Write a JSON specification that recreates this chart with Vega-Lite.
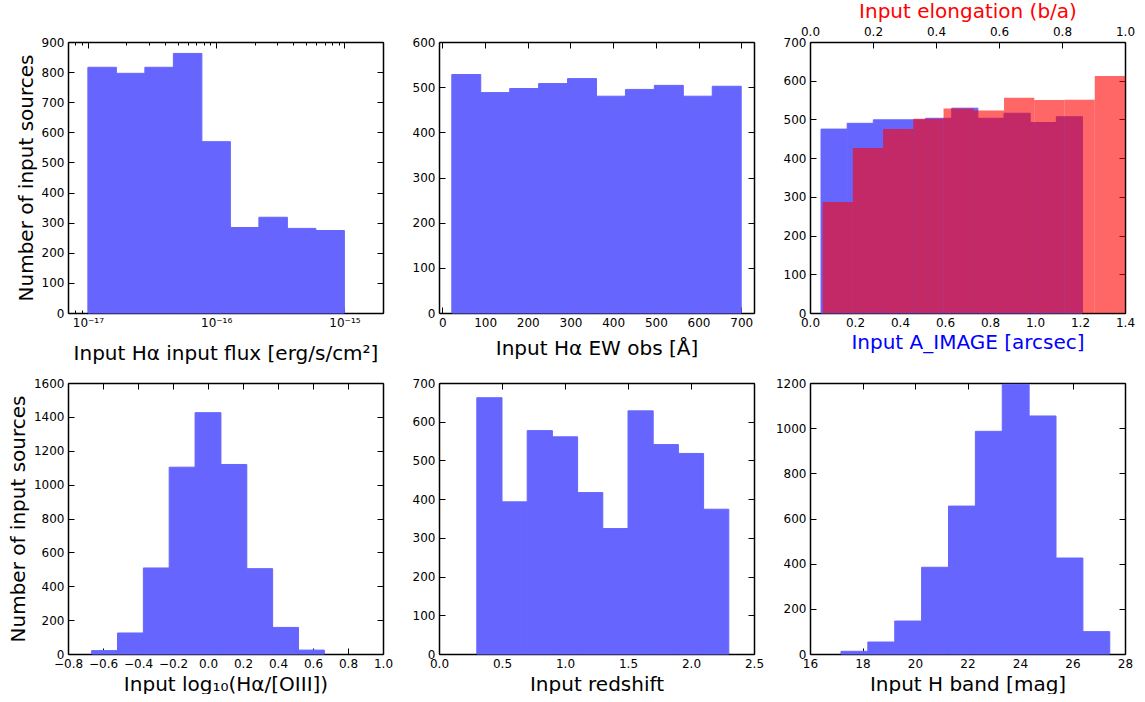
{
  "$schema": "https://vega.github.io/schema/vega-lite/v6.json",
  "background": "white",
  "padding": {"left": 8, "top": 1, "right": 0, "bottom": 0},
  "bounds": "flush",
  "columns": 3,
  "spacing": {"row": 70, "column": 56},
  "config": {
    "view": {"stroke": null},
    "font": "DejaVu Sans",
    "axis": {
      "grid": false,
      "zindex": 1,
      "domainColor": "black",
      "domainWidth": 1.5,
      "tickColor": "black",
      "tickWidth": 1,
      "tickSize": -6,
      "labelFont": "DejaVu Sans",
      "labelFontSize": 12,
      "labelColor": "black",
      "labelPadding": 10,
      "labelFlush": false,
      "labelOverlap": false,
      "labelBound": false,
      "titleFont": "DejaVu Sans",
      "titleFontSize": 20,
      "titleFontWeight": "normal",
      "titleColor": "black",
      "titlePadding": 5
    }
  },
  "datasets": {
    "flux": [
      {"lo": 1e-17, "hi": 1.6681e-17, "n": 816},
      {"lo": 1.6681e-17, "hi": 2.7826e-17, "n": 796},
      {"lo": 2.7826e-17, "hi": 4.6416e-17, "n": 816},
      {"lo": 4.6416e-17, "hi": 7.7426e-17, "n": 862},
      {"lo": 7.7426e-17, "hi": 1.2915e-16, "n": 569},
      {"lo": 1.2915e-16, "hi": 2.1544e-16, "n": 284},
      {"lo": 2.1544e-16, "hi": 3.5938e-16, "n": 318},
      {"lo": 3.5938e-16, "hi": 5.9948e-16, "n": 281},
      {"lo": 5.9948e-16, "hi": 1e-15, "n": 274}
    ],
    "ew": [
      {"lo": 22, "hi": 89.8, "n": 528},
      {"lo": 89.8, "hi": 157.6, "n": 488},
      {"lo": 157.6, "hi": 225.4, "n": 497},
      {"lo": 225.4, "hi": 293.2, "n": 508},
      {"lo": 293.2, "hi": 361, "n": 519},
      {"lo": 361, "hi": 428.8, "n": 480},
      {"lo": 428.8, "hi": 496.6, "n": 495},
      {"lo": 496.6, "hi": 564.4, "n": 504},
      {"lo": 564.4, "hi": 632.2, "n": 480},
      {"lo": 632.2, "hi": 700, "n": 502}
    ],
    "aimage": [
      {"lo": 0.049, "hi": 0.1652, "n": 475},
      {"lo": 0.1652, "hi": 0.2814, "n": 490},
      {"lo": 0.2814, "hi": 0.3976, "n": 499},
      {"lo": 0.3976, "hi": 0.5138, "n": 499},
      {"lo": 0.5138, "hi": 0.63, "n": 503},
      {"lo": 0.63, "hi": 0.7462, "n": 529},
      {"lo": 0.7462, "hi": 0.8624, "n": 503},
      {"lo": 0.8624, "hi": 0.9786, "n": 516},
      {"lo": 0.9786, "hi": 1.0948, "n": 492},
      {"lo": 1.0948, "hi": 1.211, "n": 507}
    ],
    "elong": [
      {"lo": 0.04, "hi": 0.136, "n": 287},
      {"lo": 0.136, "hi": 0.232, "n": 426},
      {"lo": 0.232, "hi": 0.328, "n": 475},
      {"lo": 0.328, "hi": 0.424, "n": 502},
      {"lo": 0.424, "hi": 0.52, "n": 528},
      {"lo": 0.52, "hi": 0.616, "n": 523},
      {"lo": 0.616, "hi": 0.712, "n": 556},
      {"lo": 0.712, "hi": 0.808, "n": 550},
      {"lo": 0.808, "hi": 0.904, "n": 551},
      {"lo": 0.904, "hi": 1.0, "n": 612}
    ],
    "ratio": [
      {"lo": -0.665, "hi": -0.5172, "n": 20},
      {"lo": -0.5172, "hi": -0.3694, "n": 124},
      {"lo": -0.3694, "hi": -0.2217, "n": 508},
      {"lo": -0.2217, "hi": -0.0739, "n": 1103},
      {"lo": -0.0739, "hi": 0.0739, "n": 1425},
      {"lo": 0.0739, "hi": 0.2217, "n": 1119},
      {"lo": 0.2217, "hi": 0.3694, "n": 504},
      {"lo": 0.3694, "hi": 0.5172, "n": 157},
      {"lo": 0.5172, "hi": 0.665, "n": 23}
    ],
    "redshift": [
      {"lo": 0.3, "hi": 0.5, "n": 662},
      {"lo": 0.5, "hi": 0.7, "n": 393},
      {"lo": 0.7, "hi": 0.9, "n": 577},
      {"lo": 0.9, "hi": 1.1, "n": 561},
      {"lo": 1.1, "hi": 1.3, "n": 417},
      {"lo": 1.3, "hi": 1.5, "n": 324},
      {"lo": 1.5, "hi": 1.7, "n": 628},
      {"lo": 1.7, "hi": 1.9, "n": 541},
      {"lo": 1.9, "hi": 2.1, "n": 518},
      {"lo": 2.1, "hi": 2.3, "n": 374}
    ],
    "hband": [
      {"lo": 17.18, "hi": 18.204, "n": 12},
      {"lo": 18.204, "hi": 19.228, "n": 53},
      {"lo": 19.228, "hi": 20.252, "n": 146},
      {"lo": 20.252, "hi": 21.276, "n": 384},
      {"lo": 21.276, "hi": 22.3, "n": 655},
      {"lo": 22.3, "hi": 23.324, "n": 986},
      {"lo": 23.324, "hi": 24.348, "n": 1194},
      {"lo": 24.348, "hi": 25.372, "n": 1054},
      {"lo": 25.372, "hi": 26.396, "n": 425},
      {"lo": 26.396, "hi": 27.42, "n": 99}
    ]
  },
  "concat": [
    {
      "width": 315, "height": 271,
      "data": {"name": "flux"},
      "resolve": {"axis": {"x": "independent", "y": "independent"}},
      "layer": [
        {
          "mark": {"type": "rect", "fill": "#6666ff", "stroke": "#6666ff", "strokeWidth": 1},
          "encoding": {
            "x": {"field": "lo", "type": "quantitative",
                  "scale": {"type": "log", "domain": [7e-18, 2e-15], "nice": false},
                  "axis": {"orient": "bottom", "title": "Input Hα input flux [erg/s/cm²]", "titlePadding": 12,
                           "values": [7e-18, 8e-18, 9e-18, 1e-17, 2e-17, 3e-17, 4e-17, 5e-17, 6e-17, 7e-17, 8e-17, 9e-17, 1e-16, 2e-16, 3e-16, 4e-16, 5e-16, 6e-16, 7e-16, 8e-16, 9e-16, 1e-15, 2e-15],
                           "tickSize": {"condition": {"test": "abs(log(datum.value)/LN10 - round(log(datum.value)/LN10)) < 0.01", "value": -6}, "value": -3},
                           "labelExpr": "abs(log(datum.value)/LN10 + 17) < 0.01 ? '10⁻¹⁷' : abs(log(datum.value)/LN10 + 16) < 0.01 ? '10⁻¹⁶' : abs(log(datum.value)/LN10 + 15) < 0.01 ? '10⁻¹⁵' : ''"}},
            "x2": {"field": "hi"},
            "y": {"field": "n", "type": "quantitative",
                  "scale": {"domain": [0, 900], "nice": false},
                  "axis": {"orient": "left", "title": "Number of input sources", "format": "d",
                           "values": [0, 100, 200, 300, 400, 500, 600, 700, 800, 900]}},
            "y2": {"datum": 0}
          }
        },
        {
          "mark": {"type": "rect", "opacity": 0},
          "encoding": {
            "x": {"field": "lo", "type": "quantitative",
                  "axis": {"orient": "top", "title": null, "labels": false,
                           "values": [7e-18, 8e-18, 9e-18, 1e-17, 2e-17, 3e-17, 4e-17, 5e-17, 6e-17, 7e-17, 8e-17, 9e-17, 1e-16, 2e-16, 3e-16, 4e-16, 5e-16, 6e-16, 7e-16, 8e-16, 9e-16, 1e-15, 2e-15],
                           "tickSize": {"condition": {"test": "abs(log(datum.value)/LN10 - round(log(datum.value)/LN10)) < 0.01", "value": -6}, "value": -3}}},
            "x2": {"field": "hi"},
            "y": {"field": "n", "type": "quantitative",
                  "axis": {"orient": "right", "title": null, "labels": false,
                           "values": [0, 100, 200, 300, 400, 500, 600, 700, 800, 900]}},
            "y2": {"datum": 0}
          }
        }
      ]
    },
    {
      "width": 315, "height": 271,
      "data": {"name": "ew"},
      "resolve": {"axis": {"x": "independent", "y": "independent"}},
      "layer": [
        {
          "mark": {"type": "rect", "fill": "#6666ff", "stroke": "#6666ff", "strokeWidth": 1},
          "encoding": {
            "x": {"field": "lo", "type": "quantitative",
                  "scale": {"domain": [-8, 730], "nice": false, "zero": false},
                  "axis": {"orient": "bottom", "title": "Input Hα EW obs [Å]", "titlePadding": 10, "format": "d",
                           "values": [0, 100, 200, 300, 400, 500, 600, 700]}},
            "x2": {"field": "hi"},
            "y": {"field": "n", "type": "quantitative",
                  "scale": {"domain": [0, 600], "nice": false},
                  "axis": {"orient": "left", "title": null, "format": "d",
                           "values": [0, 100, 200, 300, 400, 500, 600]}},
            "y2": {"datum": 0}
          }
        },
        {
          "mark": {"type": "rect", "opacity": 0},
          "encoding": {
            "x": {"field": "lo", "type": "quantitative",
                  "axis": {"orient": "top", "title": null, "labels": false,
                           "values": [0, 100, 200, 300, 400, 500, 600, 700]}},
            "x2": {"field": "hi"},
            "y": {"field": "n", "type": "quantitative",
                  "axis": {"orient": "right", "title": null, "labels": false,
                           "values": [0, 100, 200, 300, 400, 500, 600]}},
            "y2": {"datum": 0}
          }
        }
      ]
    },
    {
      "width": 315, "height": 271,
      "resolve": {"scale": {"x": "independent"}, "axis": {"x": "independent", "y": "independent"}},
      "layer": [
        {
          "data": {"name": "aimage"},
          "mark": {"type": "rect", "fill": "#6666ff", "stroke": "#6666ff", "strokeWidth": 1},
          "encoding": {
            "x": {"field": "lo", "type": "quantitative",
                  "scale": {"domain": [0, 1.4], "nice": false, "zero": false},
                  "axis": {"orient": "bottom", "zindex": 0, "title": "Input A_IMAGE [arcsec]", "titleColor": "blue", "titlePadding": 4, "format": ".1f",
                           "values": [0, 0.2, 0.4, 0.6, 0.8, 1.0, 1.2, 1.4]}},
            "x2": {"field": "hi"},
            "y": {"field": "n", "type": "quantitative",
                  "scale": {"domain": [0, 700], "nice": false},
                  "axis": {"orient": "left", "title": null, "format": "d",
                           "values": [0, 100, 200, 300, 400, 500, 600, 700]}},
            "y2": {"datum": 0}
          }
        },
        {
          "data": {"name": "elong"},
          "mark": {"type": "rect", "fill": "red", "opacity": 0.6},
          "encoding": {
            "x": {"field": "lo", "type": "quantitative",
                  "scale": {"domain": [0, 1.0], "nice": false, "zero": false},
                  "axis": {"orient": "top", "title": "Input elongation (b/a)", "titleColor": "red", "titlePadding": 4, "format": ".1f",
                           "values": [0, 0.2, 0.4, 0.6, 0.8, 1.0]}},
            "x2": {"field": "hi"},
            "y": {"field": "n", "type": "quantitative",
                  "axis": {"orient": "right", "zindex": 0, "title": null, "labels": false,
                           "values": [0, 100, 200, 300, 400, 500, 600, 700]}},
            "y2": {"datum": 0}
          }
        }
      ]
    },
    {
      "width": 315, "height": 271,
      "data": {"name": "ratio"},
      "resolve": {"axis": {"x": "independent", "y": "independent"}},
      "layer": [
        {
          "mark": {"type": "rect", "fill": "#6666ff", "stroke": "#6666ff", "strokeWidth": 1},
          "encoding": {
            "x": {"field": "lo", "type": "quantitative",
                  "scale": {"domain": [-0.8, 1.0], "nice": false, "zero": false},
                  "axis": {"orient": "bottom", "title": "Input log₁₀(Hα/[OIII])", "format": ".1f",
                           "values": [-0.8, -0.6, -0.4, -0.2, 0, 0.2, 0.4, 0.6, 0.8, 1.0]}},
            "x2": {"field": "hi"},
            "y": {"field": "n", "type": "quantitative",
                  "scale": {"domain": [0, 1600], "nice": false},
                  "axis": {"orient": "left", "title": "Number of input sources", "format": "d",
                           "values": [0, 200, 400, 600, 800, 1000, 1200, 1400, 1600]}},
            "y2": {"datum": 0}
          }
        },
        {
          "mark": {"type": "rect", "opacity": 0},
          "encoding": {
            "x": {"field": "lo", "type": "quantitative",
                  "axis": {"orient": "top", "title": null, "labels": false,
                           "values": [-0.8, -0.6, -0.4, -0.2, 0, 0.2, 0.4, 0.6, 0.8, 1.0]}},
            "x2": {"field": "hi"},
            "y": {"field": "n", "type": "quantitative",
                  "axis": {"orient": "right", "title": null, "labels": false,
                           "values": [0, 200, 400, 600, 800, 1000, 1200, 1400, 1600]}},
            "y2": {"datum": 0}
          }
        }
      ]
    },
    {
      "width": 315, "height": 271,
      "data": {"name": "redshift"},
      "resolve": {"axis": {"x": "independent", "y": "independent"}},
      "layer": [
        {
          "mark": {"type": "rect", "fill": "#6666ff", "stroke": "#6666ff", "strokeWidth": 1},
          "encoding": {
            "x": {"field": "lo", "type": "quantitative",
                  "scale": {"domain": [0, 2.5], "nice": false, "zero": false},
                  "axis": {"orient": "bottom", "title": "Input redshift", "format": ".1f",
                           "values": [0, 0.5, 1.0, 1.5, 2.0, 2.5]}},
            "x2": {"field": "hi"},
            "y": {"field": "n", "type": "quantitative",
                  "scale": {"domain": [0, 700], "nice": false},
                  "axis": {"orient": "left", "title": null, "format": "d",
                           "values": [0, 100, 200, 300, 400, 500, 600, 700]}},
            "y2": {"datum": 0}
          }
        },
        {
          "mark": {"type": "rect", "opacity": 0},
          "encoding": {
            "x": {"field": "lo", "type": "quantitative",
                  "axis": {"orient": "top", "title": null, "labels": false,
                           "values": [0, 0.5, 1.0, 1.5, 2.0, 2.5]}},
            "x2": {"field": "hi"},
            "y": {"field": "n", "type": "quantitative",
                  "axis": {"orient": "right", "title": null, "labels": false,
                           "values": [0, 100, 200, 300, 400, 500, 600, 700]}},
            "y2": {"datum": 0}
          }
        }
      ]
    },
    {
      "width": 315, "height": 271,
      "data": {"name": "hband"},
      "resolve": {"axis": {"x": "independent", "y": "independent"}},
      "layer": [
        {
          "mark": {"type": "rect", "fill": "#6666ff", "stroke": "#6666ff", "strokeWidth": 1},
          "encoding": {
            "x": {"field": "lo", "type": "quantitative",
                  "scale": {"domain": [16, 28], "nice": false, "zero": false},
                  "axis": {"orient": "bottom", "title": "Input H band [mag]", "format": "d",
                           "values": [16, 18, 20, 22, 24, 26, 28]}},
            "x2": {"field": "hi"},
            "y": {"field": "n", "type": "quantitative",
                  "scale": {"domain": [0, 1200], "nice": false},
                  "axis": {"orient": "left", "title": null, "format": "d",
                           "values": [0, 200, 400, 600, 800, 1000, 1200]}},
            "y2": {"datum": 0}
          }
        },
        {
          "mark": {"type": "rect", "opacity": 0},
          "encoding": {
            "x": {"field": "lo", "type": "quantitative",
                  "axis": {"orient": "top", "title": null, "labels": false,
                           "values": [16, 18, 20, 22, 24, 26, 28]}},
            "x2": {"field": "hi"},
            "y": {"field": "n", "type": "quantitative",
                  "axis": {"orient": "right", "title": null, "labels": false,
                           "values": [0, 200, 400, 600, 800, 1000, 1200]}},
            "y2": {"datum": 0}
          }
        }
      ]
    }
  ]
}
